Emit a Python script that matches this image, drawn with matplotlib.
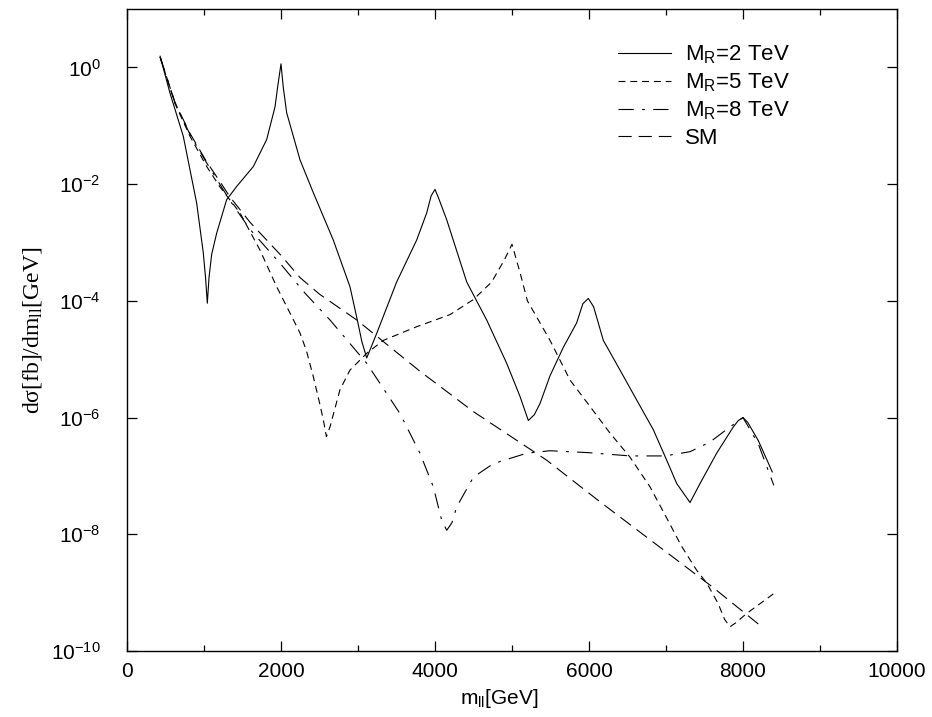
import matplotlib
matplotlib.use("Agg")
import matplotlib.pyplot as plt
from matplotlib.ticker import FixedLocator, NullFormatter

plt.rcParams['font.family'] = ['Liberation Sans', 'DejaVu Sans']
plt.rcParams['mathtext.fontset'] = 'custom'
plt.rcParams['mathtext.rm'] = 'Liberation Sans'
plt.rcParams['mathtext.it'] = 'Liberation Sans:italic'
plt.rcParams['mathtext.bf'] = 'Liberation Sans:bold'
plt.rcParams['mathtext.default'] = 'regular'
plt.rcParams['lines.scale_dashes'] = False

# ---- data ----
mr2_x = [430, 558, 731, 905, 991, 1020, 1043, 1065, 1100, 1165, 1294, 1424, 1641, 1814, 1922, 1960, 2000,
         2030, 2074, 2247, 2420, 2679, 2896, 2991, 3050, 3113, 3170, 3242, 3502, 3762, 3892, 3950, 4000,
         4050, 4152, 4412, 4671, 4931, 5104, 5212, 5290, 5364, 5494, 5667, 5840, 5920, 5991, 6060, 6186,
         6403, 6619, 6835, 7009, 7139, 7312, 7442, 7658, 7874, 7940, 8000, 8060, 8200, 8380]
mr2_y = [1.55, 0.363, 6.6e-2, 4.7e-3, 6.6e-4, 2.5e-4, 9.1e-5, 2.5e-4, 6.3e-4, 1.45e-3, 5.4e-3, 9.1e-3,
         2.0e-2, 5.8e-2, 0.21, 0.5, 1.15,
         0.45, 0.166, 2.6e-2, 7.1e-3, 1.1e-3, 1.74e-4, 4.7e-5, 2.0e-5, 1.05e-5, 1.6e-5, 2.75e-5, 2.1e-4,
         1.1e-3, 3.2e-3, 6.3e-3, 8.1e-3,
         5.6e-3, 2.45e-3, 2.1e-4, 4.7e-5, 8.5e-6, 2.3e-6, 8.9e-7, 1.12e-6, 1.74e-6, 5.2e-6, 1.6e-5, 4.2e-5,
         8.9e-5, 1.1e-4, 7.9e-5, 2.1e-5,
         6.5e-6, 2.0e-6, 6.2e-7, 1.86e-7, 7.4e-8, 3.5e-8, 7.4e-8, 2.45e-7, 6.9e-7, 8.9e-7, 1.0e-6, 8.3e-7,
         4.0e-7, 1.17e-7]

mr5_x = [430, 623, 818, 1035, 1208, 1468, 1727, 1944, 2139, 2247, 2330, 2420, 2500, 2550, 2590, 2636,
         2766, 2896, 3113, 3329, 3762, 4195, 4498, 4736, 4900, 5000, 5100, 5200, 5494, 5753, 6013, 6273,
         6532, 6792, 7000, 7200, 7400, 7530, 7675, 7760, 7831, 7900, 8048, 8394]
mr5_y = [1.5, 0.24, 6.6e-2, 2.0e-2, 8.9e-3, 3.2e-3, 7.4e-4, 1.74e-4, 5.4e-5, 2.8e-5, 1.4e-5, 5.0e-6,
         1.8e-6, 9.1e-7, 4.7e-7, 6.9e-7,
         3.0e-6, 6.5e-6, 1.26e-5, 2.1e-5, 3.6e-5, 5.8e-5, 1.05e-4, 2.1e-4, 5.0e-4, 9.3e-4, 3.2e-4, 1.0e-4,
         2.1e-5, 4.4e-6, 1.55e-6, 5.4e-7,
         2.1e-7, 6.5e-8, 2.0e-8, 6.3e-9, 2.4e-9, 1.45e-9, 6.6e-10, 3.5e-10, 2.6e-10, 3.0e-10, 4.4e-10,
         9.5e-10]

mr8_x = [430, 623, 818, 1035, 1338, 1600, 2000, 2312, 2636, 3113, 3545, 3805, 3978, 4087, 4152, 4220,
         4282, 4498, 4757, 5191, 5494, 6000, 6532, 6987, 7312, 7571, 7831, 8000, 8200, 8400]
mr8_y = [1.5, 0.25, 7.1e-2, 2.3e-2, 5.2e-3, 1.66e-3, 4.2e-4, 1.35e-4, 4.7e-5, 8.5e-6, 1.17e-6, 2.45e-7,
         6.5e-8, 1.74e-8, 1.17e-8, 1.58e-8,
         2.95e-8, 9.5e-8, 1.62e-7, 2.45e-7, 2.7e-7, 2.5e-7, 2.2e-7, 2.2e-7, 2.6e-7, 3.8e-7, 6.9e-7, 1.0e-6,
         3.5e-7, 6.9e-8]

sm_x = [430, 623, 818, 1035, 1208, 1338, 1600, 2000, 2247, 2500, 2983, 3805, 4500, 5450, 6143, 7000,
        7600, 8221]
sm_y = [1.5, 0.25, 7.4e-2, 2.4e-2, 1.1e-2, 6.0e-3, 2.2e-3, 6.0e-4, 2.5e-4, 1.3e-4, 4.7e-5, 6.2e-6,
        1.26e-6, 1.86e-7, 3.6e-8, 5.0e-9, 1.26e-9, 2.75e-10]

labels = [r'M$_R$=2 TeV', r'M$_R$=5 TeV', r'M$_R$=8 TeV', 'SM']
x_ticks = [0, 2000, 4000, 6000, 8000, 10000]
x_minor = [1000, 3000, 5000, 7000, 9000]
y_ticks = [1e-10, 1e-8, 1e-6, 1e-4, 1e-2, 1e0]
y_ticklabels = [r'10$^{-10}$', r'10$^{-8}$', r'10$^{-6}$', r'10$^{-4}$', r'10$^{-2}$', r'10$^{0}$']

# ---- figure ----
fig = plt.figure(figsize=(9.32, 7.17), dpi=100)
ax = fig.add_axes([127/932, 66/717, (897-127)/932, (651-9)/717])

lw = 0.8
ax.plot(mr2_x, mr2_y, color='black', lw=lw, linestyle='-', label=labels[0])
ax.plot(mr5_x, mr5_y, color='black', lw=lw, linestyle=(0, (5, 3.5)), label=labels[1])
ax.plot(mr8_x, mr8_y, color='black', lw=lw, linestyle=(0, (11, 6, 2, 6)), label=labels[2])
ax.plot(sm_x, sm_y, color='black', lw=lw, linestyle=(0, (9.5, 5)), label=labels[3])

ax.set_yscale('log')
ax.set_xlim(0, 10000)
ax.set_ylim(1e-10, 1e1)

ax.xaxis.set_major_locator(FixedLocator(x_ticks))
ax.xaxis.set_minor_locator(FixedLocator(x_minor))
ax.set_xticklabels([str(v) for v in x_ticks])
ax.yaxis.set_major_locator(FixedLocator(y_ticks))
ax.yaxis.set_minor_locator(FixedLocator([]))
ax.yaxis.set_minor_formatter(NullFormatter())
ax.set_yticklabels(y_ticklabels)

ax.tick_params(axis='both', which='major', direction='in', length=7, width=0.9,
               top=True, right=True, labelsize=15)
ax.tick_params(axis='x', which='major', pad=8)
ax.tick_params(axis='y', which='major', pad=19)
ax.tick_params(axis='x', which='minor', direction='in', length=4, width=0.9, top=True)
for s in ax.spines.values():
    s.set_linewidth(1.0)

ax.set_xlabel(r'm$_{ll}$[GeV]', fontsize=15)
ax.xaxis.set_label_coords(0.484, -0.056)
ax.set_ylabel(r'dσ[fb]/dm$_{ll}$[GeV]', fontsize=17, family='Liberation Serif')
ax.yaxis.set_label_coords(-0.108, 0.5)

leg = ax.legend(loc='upper right', bbox_to_anchor=(0.873, 0.96), frameon=False, fontsize=16,
                handlelength=2.4, handletextpad=0.63, labelspacing=0.25, borderaxespad=0)

fig.savefig('out.png', dpi=100)
